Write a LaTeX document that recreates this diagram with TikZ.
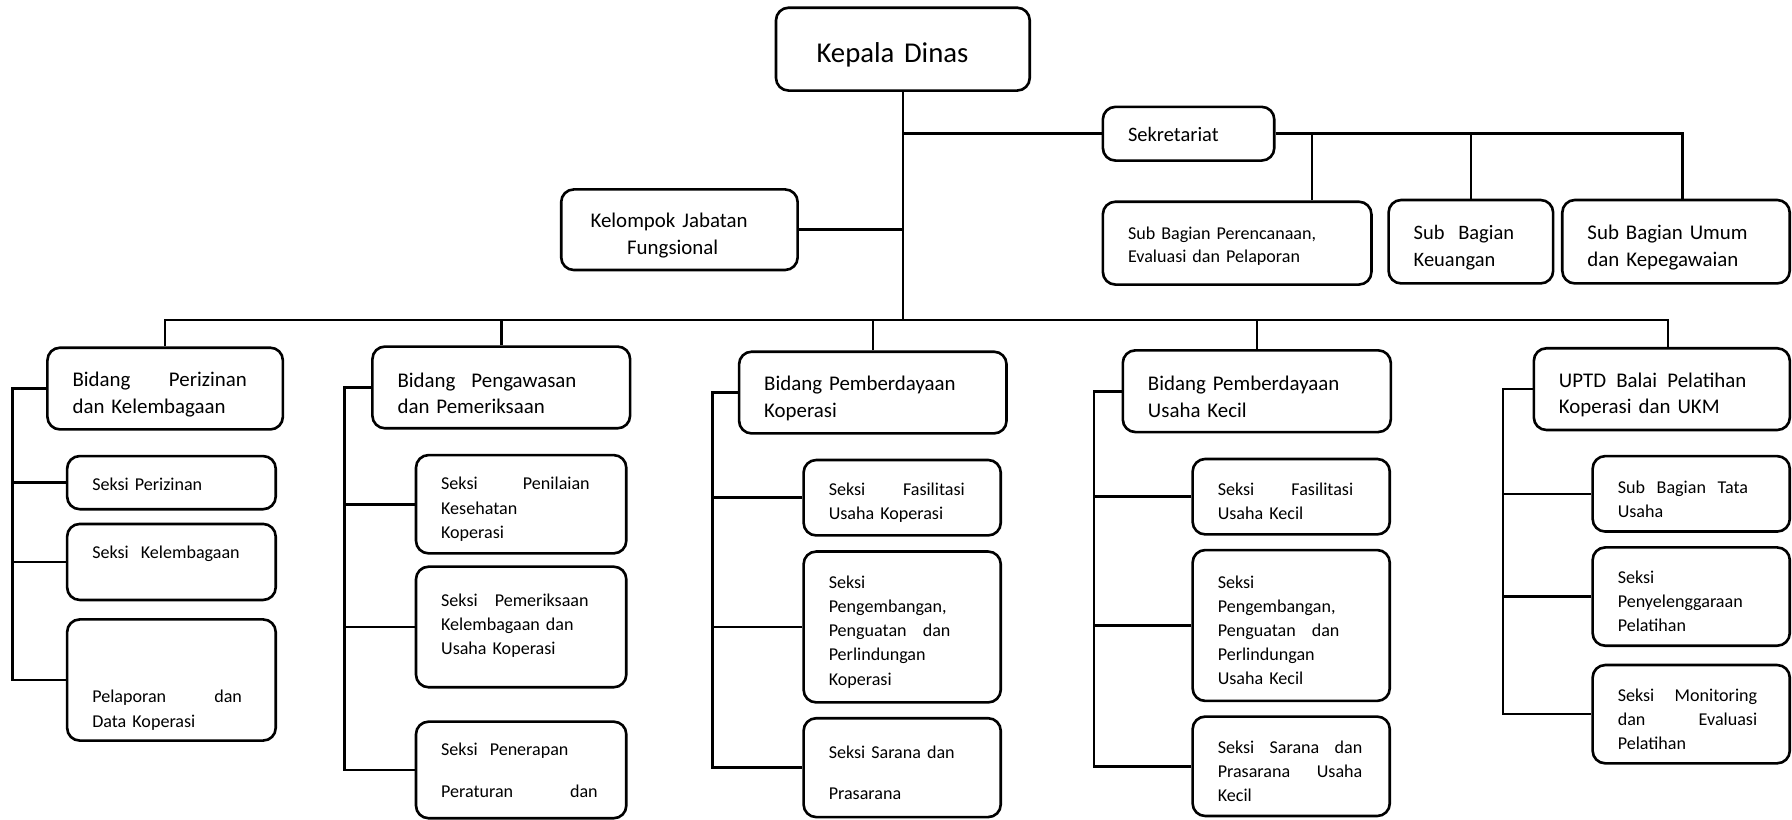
\documentclass[tikz,border=0pt]{standalone}
\usepackage{fontspec}
\setmainfont{Carlito}
\newcommand{\spread}[2]{\makebox[#1][s]{\spaceskip=0pt plus 1fil\relax#2}}
\newcommand{\boxtop}{1.25em}

\begin{document}
\begin{tikzpicture}[x=0.2mm, y=-0.2mm,
  lift/.code={\def\boxtop{#1}},
  box/.style={draw, rounded corners=2.2mm, line width=1.3pt, inner xsep=4.4mm, inner ysep=0pt, align=left,
    execute at begin node={\rule{0pt}{\boxtop}}},
  bidang/.style={box, minimum height=14.3mm, font=\fontsize{10.4}{13.3}\selectfont},
  seksi/.style={box, font=\fontsize{9}{12}\selectfont},
  link/.style={line width=1.3pt}]
\useasboundingbox (0,0) rectangle (1568,717);

% pimpinan dan sekretariat
\node[box, lift=1.1em, text width=30.2mm, inner xsep=7.1mm, minimum height=14.5mm, font=\fontsize{14.3}{17}\selectfont] (kepala) at (790,43) {Kepala Dinas};
\node[box, lift=0.8em, text width=21.2mm, minimum height=9.4mm, font=\fontsize{10.2}{13}\selectfont] (sekre) at (1040,117) {Sekretariat};
\node[box, text width=31.1mm, inner xsep=5.14mm, minimum height=14.1mm, font=\fontsize{10.4}{13.3}\selectfont] (jafung) at (594.5,201) {Kelompok Jabatan\\\hspace*{6.4mm}Fungsional};
\node[box, lift=1.08em, text width=38.2mm, minimum height=14.5mm, font=\fontsize{9}{11.4}\selectfont] (sbprog) at (1082.5,212.75) {Sub Bagian Perencanaan,\\Evaluasi dan Pelaporan};
\node[box, text width=20mm, minimum height=14.6mm, font=\fontsize{10.2}{13.6}\selectfont] (sbkeu) at (1287,211.5) {Sub\ \ Bagian\\Keuangan};
\node[box, text width=31mm, minimum height=14.6mm, font=\fontsize{10.4}{13.8}\selectfont] (sbumum) at (1466.5,211.5) {Sub Bagian Umum\\dan Kepegawaian};

% bidang
\node[bidang, text width=32.4mm] (bperizinan) at (144.5,340) {\spread{30.5mm}{Bidang Perizinan}\\dan Kelembagaan};
\node[bidang, text width=36.3mm] (bpengawasan) at (438.6,339) {\spread{31.3mm}{Bidang Pengawasan}\\dan Pemeriksaan};
\node[bidang, text width=38mm] (bkoperasi) at (763.7,343.5) {Bidang Pemberdayaan\\Koperasi};
\node[bidang, text width=38.1mm] (bukecil) at (1099.7,342.3) {Bidang Pemberdayaan\\Usaha Kecil};
\node[bidang, text width=36mm] (uptd) at (1454.1,340.5) {\spread{32.8mm}{UPTD Balai Pelatihan}\\Koperasi dan UKM};

% seksi
\node[seksi, lift=0.85em, text width=27.7mm, minimum height=9.3mm] (sizin) at (150,422.3) {Seksi Perizinan};
\node[seksi, lift=1em, text width=27.7mm, minimum height=13.3mm] (slembaga) at (150,491.7) {Seksi\ \ Kelembagaan\\\mbox{}};
\node[seksi, text width=27.7mm, minimum height=21.2mm] (slapor) at (150,595) {\mbox{}\\[13pt]\spread{26.2mm}{Pelaporan dan}\\Data Koperasi};

\node[seksi, text width=28mm, minimum height=17.2mm] (snilai) at (456,441.2) {\spread{26mm}{Seksi Penilaian}\\Kesehatan\\Koperasi};
\node[seksi, text width=28mm, minimum height=21.1mm] (speriksa) at (456,548.6) {\spread{25.8mm}{Seksi Pemeriksaan}\\Kelembagaan dan\\Usaha Koperasi\\[-4pt]\mbox{}};
\node[seksi, lift=0pt, text width=28mm, minimum height=16.9mm] (sterap) at (456,673.7) {Seksi\ \ Penerapan\\[9pt]\spread{27.4mm}{Peraturan dan}};

\node[seksi, text width=25.7mm, minimum height=13.2mm] (sfaskop) at (789.4,435.5) {\spread{23.8mm}{Seksi Fasilitasi}\\Usaha Koperasi};
\node[seksi, text width=25.7mm, minimum height=26.4mm] (skembkop) at (789.4,548.6) {Seksi\\Pengembangan,\\\spread{21.3mm}{Penguatan dan}\\Perlindungan\\Koperasi};
\node[seksi, text width=25.7mm, minimum height=17.3mm] (ssarkop) at (789.4,671.7) {\mbox{Seksi Sarana dan}\\[8.8pt]Prasarana};

\node[seksi, text width=25.7mm, minimum height=13.2mm] (sfasuk) at (1129.8,434.6) {\spread{23.7mm}{Seksi Fasilitasi}\\Usaha Kecil};
\node[seksi, text width=25.7mm, minimum height=26.4mm] (skembuk) at (1129.8,547.3) {Seksi\\Pengembangan,\\\spread{21.3mm}{Penguatan dan}\\Perlindungan\\Usaha Kecil};
\node[seksi, text width=25.7mm, minimum height=17.4mm] (ssaruk) at (1129.8,670.5) {\spread{25.3mm}{Seksi Sarana dan}\\\spread{25.3mm}{Prasarana Usaha}\\Kecil};

\node[seksi, text width=25.7mm, minimum height=13.2mm] (stu) at (1479.8,432.1) {\spread{22.8mm}{Sub Bagian Tata}\\Usaha};
\node[seksi, text width=25.7mm, minimum height=17.2mm] (slatih) at (1479.8,522) {Seksi\\Penyelenggaraan\\Pelatihan};
\node[seksi, text width=25.7mm, minimum height=17.2mm] (smonev) at (1479.8,624.9) {\spread{24.4mm}{Seksi Monitoring}\\\spread{24.4mm}{dan Evaluasi}\\Pelatihan};

% garis komando
\coordinate (bus) at (790,280);
\draw[link] (kepala.south) -- (bus);
\draw[link] (kepala.south |- sekre.west) -- (sekre.west);
\draw[link] (kepala.south |- jafung.east) -- (jafung.east);
\draw[link] (sekre.east) -| ([xshift=1.1mm]sbumum.north);
\draw[link] (sbkeu.north) -- (sbkeu.north |- sekre.east);
\draw[link] ([xshift=13.1mm]sbprog.north) |- (sekre.east);

\draw[link] (bperizinan.north) |- (bus) -| ([xshift=1.1mm]uptd.north);
\foreach \b in {bpengawasan,bkoperasi,bukecil}
  \draw[link] (\b.north) -- (\b.north |- bus);

% garis ke seksi
\draw[link] (bperizinan.west) -- ++(-29.4,0) coordinate (c1) |- (slapor.west);
\foreach \s in {sizin,slembaga}
  \draw[link] (\s.west) -- (\s.west -| c1);
\draw[link] (bpengawasan.west) -- ++(-23.2,0) coordinate (c2) |- (sterap.west);
\foreach \s in {snilai,speriksa}
  \draw[link] (\s.west) -- (\s.west -| c2);
\draw[link] (bkoperasi.west) -- ++(-22.1,0) coordinate (c3) |- (ssarkop.west);
\foreach \s in {sfaskop,skembkop}
  \draw[link] (\s.west) -- (\s.west -| c3);
\draw[link] (bukecil.west) -- ++(-24.1,0) coordinate (c4) |- (ssaruk.west);
\foreach \s in {sfasuk,skembuk}
  \draw[link] (\s.west) -- (\s.west -| c4);
\draw[link] (uptd.west) -- ++(-25.9,0) coordinate (c5) |- (smonev.west);
\foreach \s in {stu,slatih}
  \draw[link] (\s.west) -- (\s.west -| c5);
\end{tikzpicture}
\end{document}
